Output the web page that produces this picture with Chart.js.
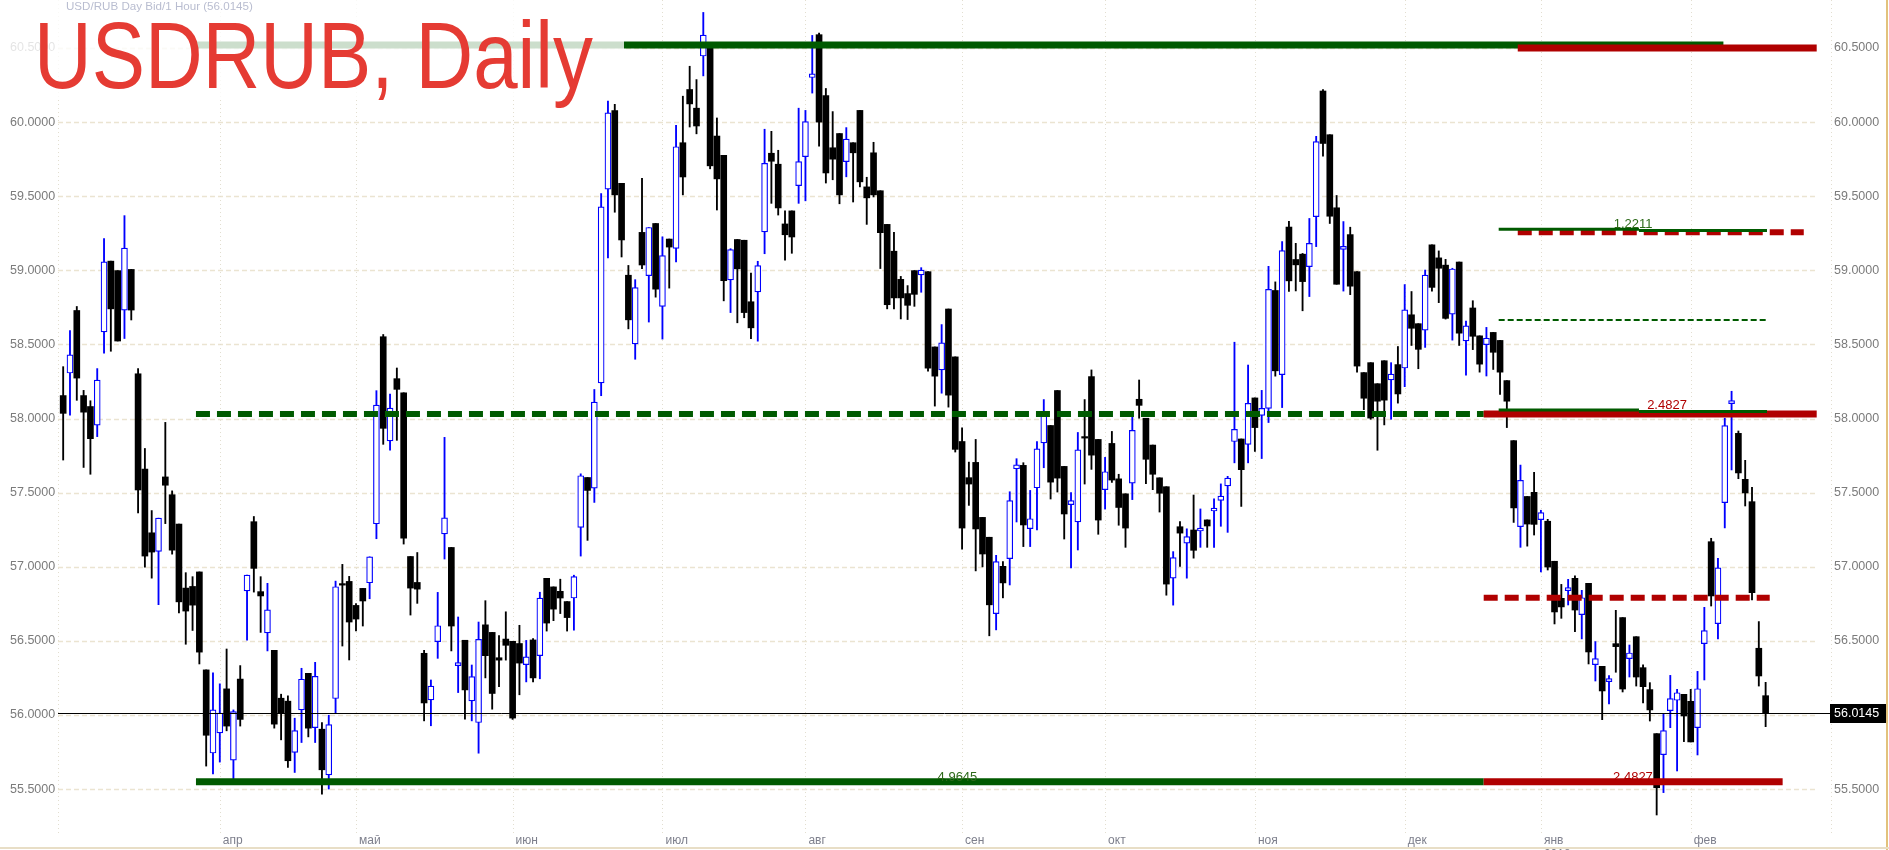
<!DOCTYPE html>
<html>
<head>
<meta charset="utf-8">
<script src="https://cdn.jsdelivr.net/npm/chart.js@4.4.0/dist/chart.umd.min.js"></script>
<style>
html,body{margin:0;padding:0;background:#ffffff;overflow:hidden;}
#wrap{width:1889px;height:850px;position:relative;}
</style>
</head>
<body>
<div id="wrap"><canvas id="c"></canvas></div>
<script>
// ---------------- DATA ----------------
const openP = [
58.155,58.307,58.729,58.155,58.081,57.955,58.585,59.062,58.998,58.732,
59.006,58.302,57.659,57.229,57.104,57.606,57.486,57.288,56.856,56.867,
56.965,56.304,55.743,55.879,56.176,55.695,56.242,56.837,57.304,56.832,
56.554,56.436,56.113,56.093,55.747,56.034,56.281,55.915,55.904,55.596,
56.111,56.885,56.901,56.739,56.854,56.892,57.29,58.552,57.849,58.269,
58.174,57.069,56.894,56.416,56.102,56.495,57.222,57.13,56.333,56.504,
56.095,55.949,56.608,56.557,56.386,56.512,56.497,56.482,56.34,56.506,
56.4,56.922,56.864,56.834,56.765,56.789,57.265,57.602,57.53,58.241,
59.548,60.078,59.587,58.967,58.503,59.256,58.964,59.316,58.756,59.211,
59.148,59.861,60.22,60.094,60.446,60.52,59.906,59.776,58.936,59.208,
59.203,58.788,58.854,59.259,59.79,59.716,59.313,59.401,59.572,59.767,
60.301,60.59,60.179,59.827,59.923,59.733,59.861,60.079,59.563,59.793,
59.537,59.31,59.129,58.939,58.843,58.998,58.969,58.991,58.483,58.328,
58.739,58.416,57.845,57.601,57.704,57.333,57.199,56.684,57.003,57.055,
57.661,57.684,57.257,57.533,57.836,57.953,58.189,57.677,57.419,57.302,
57.877,58.283,57.859,57.52,57.832,57.593,57.492,57.564,58.13,58.002,
57.821,57.6,57.54,56.923,57.27,57.159,57.248,57.241,57.316,57.376,
57.448,57.545,57.845,57.862,57.826,58.139,58.021,58.069,58.864,58.296,
59.292,59.073,59.109,59.025,59.362,60.21,59.915,59.422,59.141,59.241,
58.991,58.31,58.377,58.235,58.39,58.261,58.364,58.341,58.7,58.64,
58.596,59.172,59.084,59.035,58.705,59.056,58.524,58.746,58.558,58.498,
58.581,58.527,58.256,57.851,57.27,57.474,57.502,57.318,57.307,57.037,
56.787,56.839,56.922,56.677,56.888,56.339,56.328,56.225,56.481,56.657,
56.38,56.528,56.319,56.171,55.874,55.732,56.029,56.099,56.139,56.092,
55.914,56.481,57.169,56.616,57.433,58.101,57.9,57.59,57.439,56.45,
56.13];
const highP = [
58.35,58.593,58.756,58.19,58.12,58.337,59.215,59.062,58.998,59.369,
59.006,58.337,57.798,57.379,57.328,57.974,57.512,57.288,56.96,56.933,
56.965,56.304,56.285,56.21,56.445,56.034,56.333,56.944,57.339,56.933,
56.888,56.436,56.14,56.129,55.978,56.315,56.281,56.355,55.949,55.998,
56.903,57.016,56.935,56.751,56.854,57.067,58.188,58.567,58.165,58.341,
58.174,57.069,57.096,56.436,56.236,56.827,57.873,57.13,56.661,56.504,
56.337,56.627,56.771,56.557,56.536,56.696,56.497,56.605,56.503,56.515,
56.828,56.922,56.864,56.916,56.765,56.943,57.627,57.602,58.196,59.518,
60.142,60.12,59.587,59.033,58.937,59.62,59.289,59.316,59.226,59.211,
59.979,60.175,60.377,60.287,60.74,60.53,60.028,59.776,59.146,59.208,
59.203,58.981,59.061,59.952,59.938,59.81,59.401,59.401,60.094,60.079,
60.585,60.6,60.227,60.071,59.923,59.963,59.861,60.079,59.628,59.864,
59.537,59.31,59.257,58.959,58.897,58.998,59.018,58.991,58.483,58.634,
58.739,58.416,57.938,57.706,57.859,57.333,57.199,57.077,57.035,57.506,
57.729,57.702,57.515,57.845,58.128,57.953,58.189,57.677,57.5,57.906,
58.128,58.328,57.859,57.738,57.913,57.624,57.492,58.014,58.26,58.002,
57.821,57.6,57.54,57.102,57.304,57.256,57.484,57.39,57.316,57.458,
57.559,57.61,58.515,57.862,58.361,58.139,58.19,59.027,58.922,59.194,
59.331,59.182,59.114,59.35,59.904,60.22,59.915,59.505,59.329,59.291,
58.991,58.31,58.377,58.235,58.39,58.377,58.486,58.904,58.857,58.64,
59.002,59.172,59.131,59.074,59.014,59.056,58.658,58.795,58.558,58.615,
58.581,58.527,58.256,57.851,57.686,57.474,57.637,57.381,57.32,57.037,
56.881,56.915,56.938,56.841,56.888,56.495,56.328,56.265,56.706,56.657,
56.472,56.528,56.339,56.218,55.874,56.004,56.267,56.173,56.139,56.173,
56.294,56.726,57.192,57.057,58.002,58.184,57.916,57.718,57.536,56.63,
56.22];
const lowP = [
57.72,58.022,58.123,57.67,57.624,57.878,58.441,58.454,58.523,58.54,
58.665,57.363,56.997,56.923,56.744,57.291,57.085,56.688,56.477,56.57,
56.344,55.655,55.602,55.682,55.893,55.57,55.925,56.504,56.829,56.557,
56.432,55.911,55.832,55.646,55.612,55.814,55.852,55.814,55.466,55.5,
56.01,56.465,56.371,56.567,56.6,56.784,57.189,57.826,57.786,57.853,
57.153,56.674,56.753,55.96,55.927,56.382,57.052,56.432,56.151,55.971,
55.96,55.742,56.25,56.039,56.19,56.37,55.97,56.136,56.223,56.223,
56.244,56.566,56.636,56.684,56.566,56.572,57.072,57.178,57.434,58.154,
59.084,59.392,59.09,58.605,58.4,59.012,58.651,58.819,58.536,58.88,
59.057,59.509,59.967,59.921,60.312,59.685,59.407,58.794,58.715,58.646,
58.68,58.539,58.522,59.112,59.452,59.373,59.069,59.115,59.452,59.469,
60.196,59.838,59.589,59.611,59.449,59.631,59.461,59.563,59.31,59.495,
59.012,58.74,58.74,58.672,58.668,58.757,58.852,58.319,58.084,58.171,
58.077,57.774,57.118,57.414,56.972,56.999,56.534,56.574,56.79,56.877,
57.302,57.136,57.136,57.248,57.668,57.457,57.504,57.187,56.992,57.113,
57.558,57.657,57.219,57.389,57.569,57.28,57.131,57.453,58.002,57.561,
57.52,57.369,56.808,56.741,57.003,56.923,57.058,57.131,57.131,57.131,
57.273,57.232,57.701,57.407,57.701,57.778,57.73,57.973,58.286,58.074,
58.857,58.861,58.727,58.823,59.16,59.77,59.316,58.906,58.86,58.836,
58.313,58.06,57.995,57.786,57.957,57.995,58.104,58.215,58.493,58.336,
58.48,58.86,58.782,58.671,58.529,58.493,58.292,58.465,58.313,58.287,
58.331,58.163,57.939,57.299,57.131,57.139,57.214,56.965,56.978,56.614,
56.652,56.742,56.562,56.513,56.344,56.229,55.968,56.074,56.288,56.155,
56.256,56.195,56.081,55.959,55.325,55.476,55.914,55.622,55.82,55.818,
55.73,56.236,56.735,56.513,57.262,57.653,57.594,57.41,56.776,56.195,
55.921];
const closeP = [
58.035,58.43,58.273,58.043,57.864,58.259,59.057,58.74,58.523,59.15,
58.732,57.518,57.072,57.099,57.328,57.55,57.112,56.763,56.701,56.741,
56.424,55.863,56.034,56.013,55.925,56.023,55.97,56.944,56.989,56.803,
56.709,55.938,56.01,55.691,55.895,56.241,55.911,56.261,55.63,55.935,
56.865,56.876,56.627,56.647,56.769,57.067,58.091,57.934,58.071,58.197,
57.193,56.856,56.849,56.081,56.194,56.602,57.33,56.6,56.353,56.169,
56.259,56.51,56.4,56.145,56.37,56.47,55.979,56.35,56.392,56.25,
56.789,56.62,56.714,56.789,56.657,56.934,57.614,57.515,58.111,59.428,
60.063,59.509,59.205,58.666,58.883,59.036,59.289,58.873,59.1,59.157,
59.834,59.63,60.123,59.974,60.587,59.705,59.617,58.93,59.14,59.01,
58.715,58.612,59.032,59.722,59.736,59.421,59.24,59.225,59.733,60.003,
60.326,60.0,59.657,59.75,59.509,59.886,59.793,59.597,59.489,59.509,
59.254,58.768,58.814,58.814,58.764,58.838,59.002,58.34,58.286,58.51,
58.158,57.792,57.261,57.558,57.255,57.086,56.743,57.035,56.891,57.446,
57.688,57.282,57.324,57.796,58.016,57.571,57.598,57.356,57.446,57.789,
57.868,57.753,57.315,57.641,57.585,57.4,57.261,57.92,58.089,57.725,
57.624,57.496,56.883,57.061,57.227,57.203,57.111,57.26,57.275,57.395,
57.477,57.598,57.927,57.655,58.103,57.939,58.069,58.871,58.322,59.133,
58.929,59.037,58.924,59.182,59.868,59.856,59.365,58.906,59.151,58.893,
58.354,58.137,58.003,58.117,58.124,58.3,58.166,58.733,58.609,58.467,
58.968,58.885,59.014,58.676,59.009,58.576,58.625,58.555,58.367,58.542,
58.447,58.313,58.117,57.397,57.583,57.288,57.286,57.365,56.998,56.695,
56.729,56.859,56.708,56.791,56.425,56.38,56.162,56.234,56.461,56.175,
56.418,56.256,56.191,56.034,55.509,55.894,56.11,56.15,55.993,55.818,
56.177,56.569,56.803,56.992,57.952,58.121,57.633,57.498,56.825,56.263,
56.0145];

const priceTicks = [55.5,56.0,56.5,57.0,57.5,58.0,58.5,59.0,59.5,60.0,60.5];
const monthTickIdx = [23,43,66,88,109,132,153,175,197,217,239];
const monthLabels = ['апр','май','июн','июл','авг','сен','окт','ноя','дек',['янв','2018'],'фев'];
const lastPrice = 56.0145;
const titleText = 'USDRUB, Daily';
const headerText = 'USD/RUB Day Bid/1 Hour (56.0145)';

// level segments (price, from index, to index)
const thickGreenPrice = [60.52, 55.55];
const thickGreenFrom  = [19.5, 19.5];
const thickGreenTo    = [243.8, 208.6];
const dashGreenPrice = [58.03];
const dashGreenFrom  = [19.5];
const dashGreenTo    = [208.6];
const thickRedPrice = [60.50, 58.03, 55.55];
const thickRedFrom  = [213.6, 208.6, 208.6];
const thickRedTo    = [257.5, 257.5, 252.5];
const dashRedPrice = [59.257, 56.79];
const dashRedFrom  = [213.6, 208.6];
const dashRedTo    = [255.6, 250.6];
const thinGreenPrice = [59.277, 59.268, 58.058, 58.047];
const thinGreenFrom  = [210.8, 231.4, 210.8, 231.4];
const thinGreenTo    = [231.4, 250.2, 231.4, 250.2];
const dotGreenPrice = [58.665];
const dotGreenFrom  = [210.8];
const dotGreenTo    = [250.1];

// level labels
const lvlLabelText  = ['1.2211', '2.4827', '4.9645', '2.4827'];
const lvlLabelIdx   = [227.7, 232.6, 128.4, 227.6];
const lvlLabelPrice = [59.277, 58.058, 55.55, 55.55];
const lvlLabelGreen = [true, false, true, false];

// ---------------- STYLE ----------------
const GREEN = '#005a00', RED = '#b00000', BLUE = '#0000ff';
const Y_MIN = 55.19, Y_MAX = 60.824, X_MIN = -0.76, X_MAX = 259.6;

const wickUp = [], wickDn = [], bodyUp = [], bodyDn = [];
for (let i = 0; i < openP.length; i++) {
  const o = openP[i], c = closeP[i];
  const w = {x: i, y: [lowP[i], highP[i]]};
  const b = {x: i, y: [Math.min(o, c), Math.max(o, c)]};
  if (c > o) { wickUp.push(w); bodyUp.push(b); } else { wickDn.push(w); bodyDn.push(b); }
}

function seg(prices, from, to, color, width, dash, order) {
  return prices.map((p, k) => ({
    type: 'line', data: [{x: from[k], y: p}, {x: to[k], y: p}],
    borderColor: color, borderWidth: width, borderDash: dash, borderCapStyle: 'butt',
    pointRadius: 0, fill: false, tension: 0, order: order, xAxisID: 'x', yAxisID: 'y'
  }));
}

const datasets = [
  {type: 'bar', data: wickDn, backgroundColor: '#000000', barThickness: 1.2, grouped: false, order: 11},
  {type: 'bar', data: wickUp, backgroundColor: BLUE, barThickness: 1.2, grouped: false, order: 11},
  {type: 'bar', data: bodyDn, backgroundColor: '#000000', barThickness: 6, minBarLength: 1.5, grouped: false, order: 10},
  {type: 'bar', data: bodyUp, backgroundColor: '#ffffff', borderColor: BLUE, borderWidth: 1.2, borderSkipped: false, barThickness: 6, minBarLength: 3, grouped: false, order: 10},
  ...seg(thickGreenPrice, thickGreenFrom, thickGreenTo, GREEN, 7, [], 5),
  ...seg(dashGreenPrice, dashGreenFrom, dashGreenTo, GREEN, 6, [14, 7], 5),
  ...seg(thickRedPrice, thickRedFrom, thickRedTo, RED, 7, [], 4),
  ...seg(dashRedPrice, dashRedFrom, dashRedTo, RED, 6, [14, 7], 4),
  ...seg(thinGreenPrice, thinGreenFrom, thinGreenTo, GREEN, 3, [], 3),
  ...seg(dotGreenPrice, dotGreenFrom, dotGreenTo, GREEN, 2, [6, 3], 3)
];

const AXIS_FONT = {family: '"Liberation Sans", Arial, sans-serif', size: 12.5};

const gridPlugin = {
  id: 'gridBg',
  beforeDatasetsDraw(chart) {
    const {ctx, chartArea: a} = chart;
    const x = chart.scales.x, y = chart.scales.y;
    ctx.save();
    ctx.strokeStyle = '#ebe4d1'; ctx.lineWidth = 1.5; ctx.setLineDash([5, 3]);
    priceTicks.forEach(p => {
      const py = Math.round(y.getPixelForValue(p)) + 0.5;
      ctx.beginPath(); ctx.moveTo(a.left, py); ctx.lineTo(a.right - 13, py); ctx.stroke();
    });
    ctx.strokeStyle = '#e2ded0'; ctx.lineWidth = 1; ctx.setLineDash([1, 3]);
    [X_MIN, ...monthTickIdx, X_MAX].forEach(v => {
      const px = Math.round(x.getPixelForValue(v)) + 0.5;
      ctx.beginPath(); ctx.moveTo(px, a.top); ctx.lineTo(px, a.bottom); ctx.stroke();
    });
    ctx.restore();
  },
  afterDatasetsDraw(chart) {
    const {ctx, chartArea: a} = chart;
    const x = chart.scales.x, y = chart.scales.y;
    ctx.save();
    // current price line
    const py = Math.round(y.getPixelForValue(lastPrice)) + 0.5;
    ctx.strokeStyle = '#000000'; ctx.lineWidth = 1; ctx.setLineDash([]);
    ctx.beginPath(); ctx.moveTo(a.left, py); ctx.lineTo(a.right, py); ctx.stroke();
    // level labels
    ctx.font = '13px "Liberation Sans", Arial, sans-serif';
    ctx.textBaseline = 'alphabetic'; ctx.textAlign = 'left';
    lvlLabelText.forEach((t, k) => {
      ctx.fillStyle = lvlLabelGreen[k] ? '#2d6a1a' : '#b00000';
      const lx = x.getPixelForValue(lvlLabelIdx[k]);
      const ly = y.getPixelForValue(lvlLabelPrice[k]);
      ctx.fillText(t, lx, ly - 1);
    });
    // price box
    ctx.fillStyle = '#000000';
    ctx.fillRect(a.right - 1, py - 9.5, 56, 19);
    ctx.fillStyle = '#ffffff';
    ctx.font = '12.5px "Liberation Sans", Arial, sans-serif';
    ctx.textBaseline = 'middle';
    ctx.fillText(lastPrice.toFixed(4), a.right + 3, py + 0.5);
    ctx.restore();
  },
  afterDraw(chart) {
    const ctx = chart.ctx;
    ctx.save();
    // translucent white box behind title
    ctx.fillStyle = 'rgba(255,255,255,0.8)';
    ctx.fillRect(0, 0, 624, 100);
    // header text
    ctx.fillStyle = '#b9bdd0';
    ctx.font = '11.6px "Liberation Sans", Arial, sans-serif';
    ctx.textBaseline = 'alphabetic'; ctx.textAlign = 'left';
    ctx.fillText(headerText, 66, 10);
    // title
    ctx.font = '94px "Liberation Sans Narrow", "Liberation Sans", Arial, sans-serif';
    const w = ctx.measureText(titleText).width;
    ctx.translate(34, 88);
    ctx.scale(559 / w, 1);
    ctx.fillStyle = '#e53b33';
    ctx.fillText(titleText, 0, 0);
    ctx.restore();
    // borders
    ctx.save();
    ctx.strokeStyle = '#e2c27c'; ctx.lineWidth = 2;
    ctx.beginPath(); ctx.moveTo(1887, 0); ctx.lineTo(1887, 850); ctx.stroke();
    ctx.strokeStyle = '#e8dec6';
    ctx.beginPath(); ctx.moveTo(0, 848); ctx.lineTo(1889, 848); ctx.stroke();
    ctx.restore();
  }
};

const yCommon = {
  type: 'linear', min: Y_MIN, max: Y_MAX,
  grid: {display: false, drawTicks: false}, border: {display: false},
  afterBuildTicks: s => { s.ticks = priceTicks.map(v => ({value: v})); }
};

new Chart(document.getElementById('c'), {
  type: 'bar',
  data: {datasets},
  options: {
    responsive: true, maintainAspectRatio: false, animation: false, devicePixelRatio: 1,
    layout: {padding: {left: 10, right: 0, top: 0, bottom: 0}},
    plugins: {legend: {display: false}, tooltip: {enabled: false}},
    events: [],
    scales: {
      x: {
        type: 'linear', min: X_MIN, max: X_MAX, offset: false,
        grid: {display: false, drawTicks: false}, border: {display: false},
        afterBuildTicks: s => { s.ticks = monthTickIdx.map(v => ({value: v})); },
        afterFit: s => { s.height = 15; s.paddingLeft = 0; s.paddingRight = 0; },
        ticks: {autoSkip: false, maxRotation: 0, minRotation: 0, align: 'start', labelOffset: 3, padding: -2,
          color: '#7d7f8c', font: {family: '"Liberation Sans", Arial, sans-serif', size: 12},
          callback: (v, i) => monthLabels[i]}
      },
      y: Object.assign({}, yCommon, {
        position: 'right',
        afterFit: s => { s.width = 58; s.paddingTop = 0; s.paddingBottom = 0; },
        ticks: {padding: 3, crossAlign: 'near', color: '#7b7b7b', font: AXIS_FONT, callback: v => Number(v).toFixed(4)}
      }),
      yL: Object.assign({}, yCommon, {
        position: 'left',
        afterFit: s => { s.width = 48; s.paddingTop = 0; s.paddingBottom = 0; },
        ticks: {padding: 3, crossAlign: 'far', color: '#7b7b7b', font: AXIS_FONT, callback: v => Number(v).toFixed(4)}
      })
    }
  },
  plugins: [gridPlugin]
});
</script>
</body>
</html>
